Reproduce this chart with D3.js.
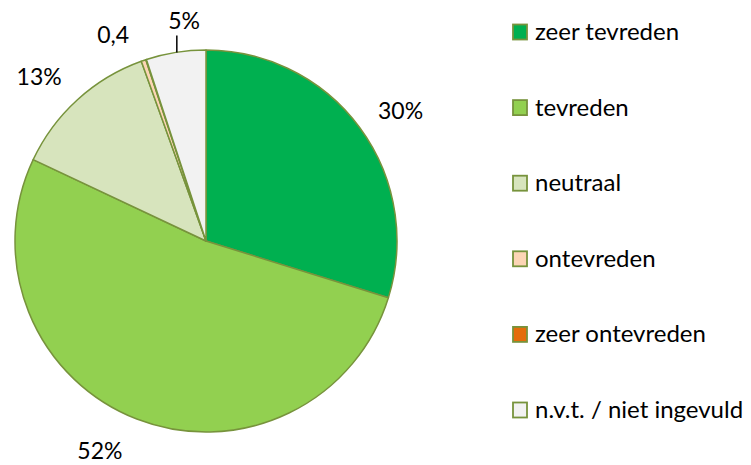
<!DOCTYPE html>
<html><head><meta charset="utf-8">
<script src="https://cdn.jsdelivr.net/npm/d3@7"></script>
<style>body{margin:0;background:#fff}svg{display:block}text{font-family:Lato,"Open Sans",sans-serif;fill:#000}</style>
</head><body>
<script>
const categories = ["zeer tevreden","tevreden","neutraal","ontevreden","zeer ontevreden","n.v.t. / niet ingevuld"];
const values = [29.8, 52.2, 12.5, 0.4, 0.05, 5.05];
const labels = ["30%","52%","13%","0,4","","5%"];
const colors = ["#00B050","#92D050","#D7E4BD","#FCD5B5","#E46C0A","#F2F2F2"];

const W = 751, H = 465;
const svg = d3.select("body").append("svg").attr("width",W).attr("height",H);
const cx = 206, cy = 241, R = 191;
const g = svg.append("g").attr("transform",`translate(${cx},${cy})`);
const pie = d3.pie().sort(null).value(d=>d)(values);
const arc = d3.arc().innerRadius(0).outerRadius(R);
g.selectAll("path").data(pie).join("path")
  .attr("d",arc).attr("fill",(d,i)=>colors[i])
  .attr("stroke","#77933C").attr("stroke-width",1.5).attr("stroke-linejoin","round");

// labels
const labelR = [234,235,234,226,0,221];
const labelShift = [2.6,5.6,-3.2,-5.2,0,3.4]; // degrees nudge
pie.forEach((d,i)=>{
  if(!labels[i]) return;
  const a = (d.startAngle+d.endAngle)/2 + labelShift[i]*Math.PI/180;
  const x = labelR[i]*Math.sin(a), y = -labelR[i]*Math.cos(a);
  g.append("text").attr("x",x).attr("y",y+8).attr("text-anchor","middle")
   .attr("font-size",23).text(labels[i]);
});
// leader line for 5%
{
  const d = pie[5]; const a = (d.startAngle+d.endAngle)/2;
  const x = R*Math.sin(a), y = -R*Math.cos(a);
  g.append("line").attr("x1",x+1).attr("y1",y).attr("x2",x+1).attr("y2",y-17)
   .attr("stroke","#000").attr("stroke-width",1.5);
}

// legend
const lg = svg.append("g");
const ly = d3.scalePoint().domain(categories).range([32,410]);
categories.forEach((c,i)=>{
  lg.append("rect").attr("x",513).attr("y",ly(c)-7.5).attr("width",14).attr("height",15)
    .attr("fill",colors[i]).attr("stroke","#77933C").attr("stroke-width",1.8);
  lg.append("text").attr("x",535).attr("y",ly(c)+8).attr("font-size",24).text(c);
});
</script>
</body></html>
